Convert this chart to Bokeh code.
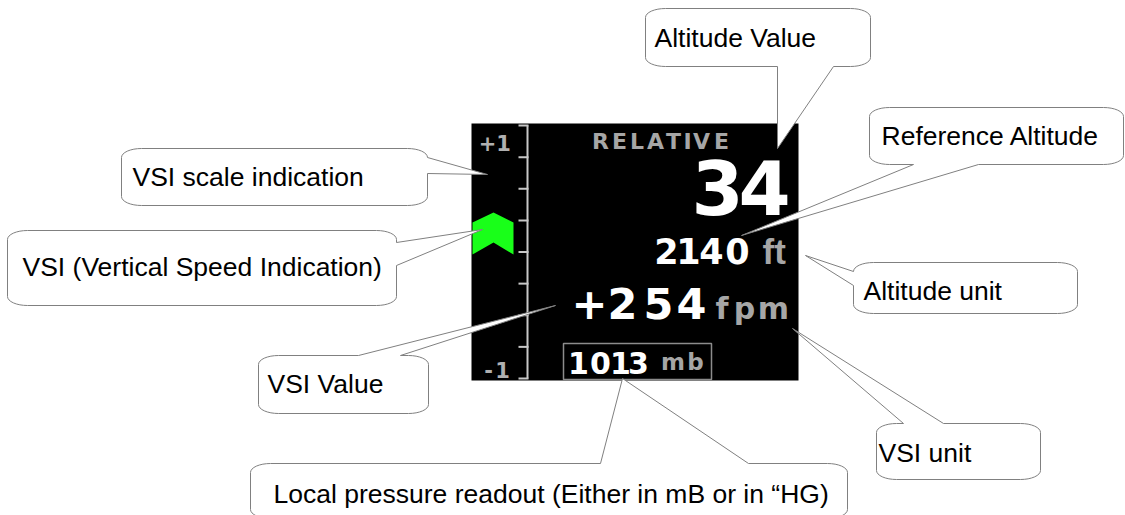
import math
from bokeh.plotting import figure
from bokeh.models import Range1d
from bokeh.core.properties import value
from bokeh.embed import file_html
from bokeh.resources import INLINE

# ---------------- data ----------------
# VSI scale (thousands of fpm), ticks from +1 to -1
VSI_SCALE = [1, 0.75, 0.5, 0.25, 0, -0.25, -0.5, -0.75, -1]
SCALE_LABELS = ["+1", "-1"]

# display readouts
MODE_TEXT = "RELATIVE"
ALT_VALUE = "34"
REF_ALT = "2140"
ALT_UNIT = "ft"
VSI_VALUE = "+254"
VSI_UNIT = "fpm"
PRESSURE = "1013"
PRESSURE_UNIT = "mb"

# callouts
CALLOUT_TEXT = [
    "Altitude Value",
    "Reference Altitude",
    "Altitude unit",
    "VSI unit",
    "Local pressure readout (Either in mB or in \u201cHG)",
    "VSI Value",
    "VSI scale indication",
    "VSI (Vertical Speed Indication)",
]
CALLOUT_BOX = [
    (645, 8, 870, 66),
    (869, 107, 1123, 164),
    (853, 262, 1077, 313),
    (876, 423, 1040, 479),
    (250, 463, 847, 518),
    (258, 355, 428, 413),
    (121, 148, 427, 205),
    (7, 230, 396, 305),
]
CALLOUT_SIDE = ["bottom", "bottom", "left", "top", "top", "top", "right", "right"]
CALLOUT_BASE = [(777, 833), (913, 978), (271, 285), (903, 943), (600, 748),
                (358, 400), (157, 173), (242, 265)]
CALLOUT_TIP = [(777, 148), (741, 235), (805, 255), (792, 328), (622, 378),
               (555, 305), (487, 174), (482, 229)]
CALLOUT_TEXT_POS = [(654, 47), (881, 145), (863, 300), (878, 462), (273, 503),
                    (267, 393), (132, 186), (22, 276)]

# ---------------- figure ----------------
W, H = 1125, 515
p = figure(width=W, height=H, x_range=Range1d(0, W), y_range=Range1d(H, 0),
           output_backend="svg", toolbar_location=None, min_border=0,
           x_axis_location=None, y_axis_location=None)
p.grid.visible = False
p.outline_line_color = None
p.background_fill_color = "white"
p.border_fill_color = "white"

WHITE = "#ffffff"
GRAY = "#a6a6a6"
SCALE_COL = "#c8c8c8"
GREEN = "#19ff19"
LCD_FONT = value("DejaVu Sans")
MID = 0.35  # baseline -> em-box middle, as fraction of font size

# display background
DISP = (471, 123, 798, 380)
p.quad(left=[DISP[0]], right=[DISP[2]], top=[DISP[1]], bottom=[DISP[3]],
       fill_color="black", line_color=None)

# VSI scale
S_TOP, S_BOT, S_X = 125, 378, 527
def vsi_y(v):
    return S_TOP + (1 - v) / 2 * (S_BOT - S_TOP)
tick_y = [vsi_y(v) for v in VSI_SCALE]
p.segment(x0=[S_X], y0=[S_TOP], x1=[S_X], y1=[S_BOT], line_color=SCALE_COL, line_width=2)
p.segment(x0=[S_X - 9] * len(tick_y), y0=tick_y, x1=[S_X + 1] * len(tick_y), y1=tick_y,
          line_color=SCALE_COL, line_width=2)

def lcd(chars, centers, base, size, color, font=LCD_FONT):
    p.text(x=centers, y=[base - MID * size] * len(centers), text=list(chars),
           text_align="center", text_baseline="middle",
           text_font=font, text_font_style="bold",
           text_font_size=f"{size}px", text_color=color)

lcd(SCALE_LABELS[0], [487, 503], 150, 21, "#b0b0b0")
lcd(SCALE_LABELS[1], [488, 502], 377, 21, "#b0b0b0")

# VSI chevron
p.patch(x=[472, 493, 513, 513, 493, 472], y=[222, 212, 222, 254, 242, 254],
        fill_color=GREEN, line_color=None)

# readouts
lcd(MODE_TEXT, [600, 619, 636.5, 655, 673, 687, 701, 721], 149, 22, GRAY)
lcd(ALT_VALUE, [717, 764], 213, 75, WHITE)
lcd(REF_ALT, [666, 688, 711, 737], 263, 35, WHITE)
p.text(x=[762], y=[263 - MID * 35], text=[ALT_UNIT], text_align="left", text_baseline="middle",
       text_font=value("Liberation Sans"), text_font_style="bold",
       text_font_size="35px", text_color=GRAY)
lcd(VSI_VALUE, [589, 622, 658, 691], 318, 43, WHITE)
lcd(VSI_UNIT, [721.5, 744, 773], 318, 30, GRAY)
p.quad(left=[563], right=[711], top=[343], bottom=[379], fill_color=None,
       line_color="#8c8c8c", line_width=1.5)
lcd(PRESSURE, [578, 600, 620, 638], 373, 30, WHITE)
lcd(PRESSURE_UNIT, [672.5, 695], 370, 23, GRAY)

# callouts
def callout_path(box, side, base, tip, rx=20, ry=9, n=8):
    x0, y0, x1, y1 = box
    b1, b2 = base
    xs, ys = [], []
    def arc(cx, cy, a0, a1):
        for k in range(n + 1):
            a = a0 + (a1 - a0) * k / n
            xs.append(cx + rx * math.cos(a))
            ys.append(cy + ry * math.sin(a))
    arc(x0 + rx, y0 + ry, math.pi, 1.5 * math.pi)
    if side == "top":
        xs.extend([b1, tip[0], b2]); ys.extend([y0, tip[1], y0])
    arc(x1 - rx, y0 + ry, 1.5 * math.pi, 2 * math.pi)
    if side == "right":
        xs.extend([x1, tip[0], x1]); ys.extend([b1, tip[1], b2])
    arc(x1 - rx, y1 - ry, 0, 0.5 * math.pi)
    if side == "bottom":
        xs.extend([b2, tip[0], b1]); ys.extend([y1, tip[1], y1])
    arc(x0 + rx, y1 - ry, 0.5 * math.pi, math.pi)
    if side == "left":
        xs.extend([x0, tip[0], x0]); ys.extend([b2, tip[1], b1])
    return xs, ys

cxs, cys = [], []
for box, side, base, tip in zip(CALLOUT_BOX, CALLOUT_SIDE, CALLOUT_BASE, CALLOUT_TIP):
    a, b = callout_path(box, side, base, tip)
    cxs.append(a); cys.append(b)
p.patches(xs=cxs, ys=cys, fill_color="white", line_color="#808080", line_width=1)

CS = 26.5
p.text(x=[t[0] for t in CALLOUT_TEXT_POS], y=[t[1] - MID * CS for t in CALLOUT_TEXT_POS],
       text=CALLOUT_TEXT, text_align="left", text_baseline="middle",
       text_font=value("Liberation Sans"), text_font_size=f"{CS}px", text_color="black")

open("out.html", "w").write(file_html(p, INLINE))
